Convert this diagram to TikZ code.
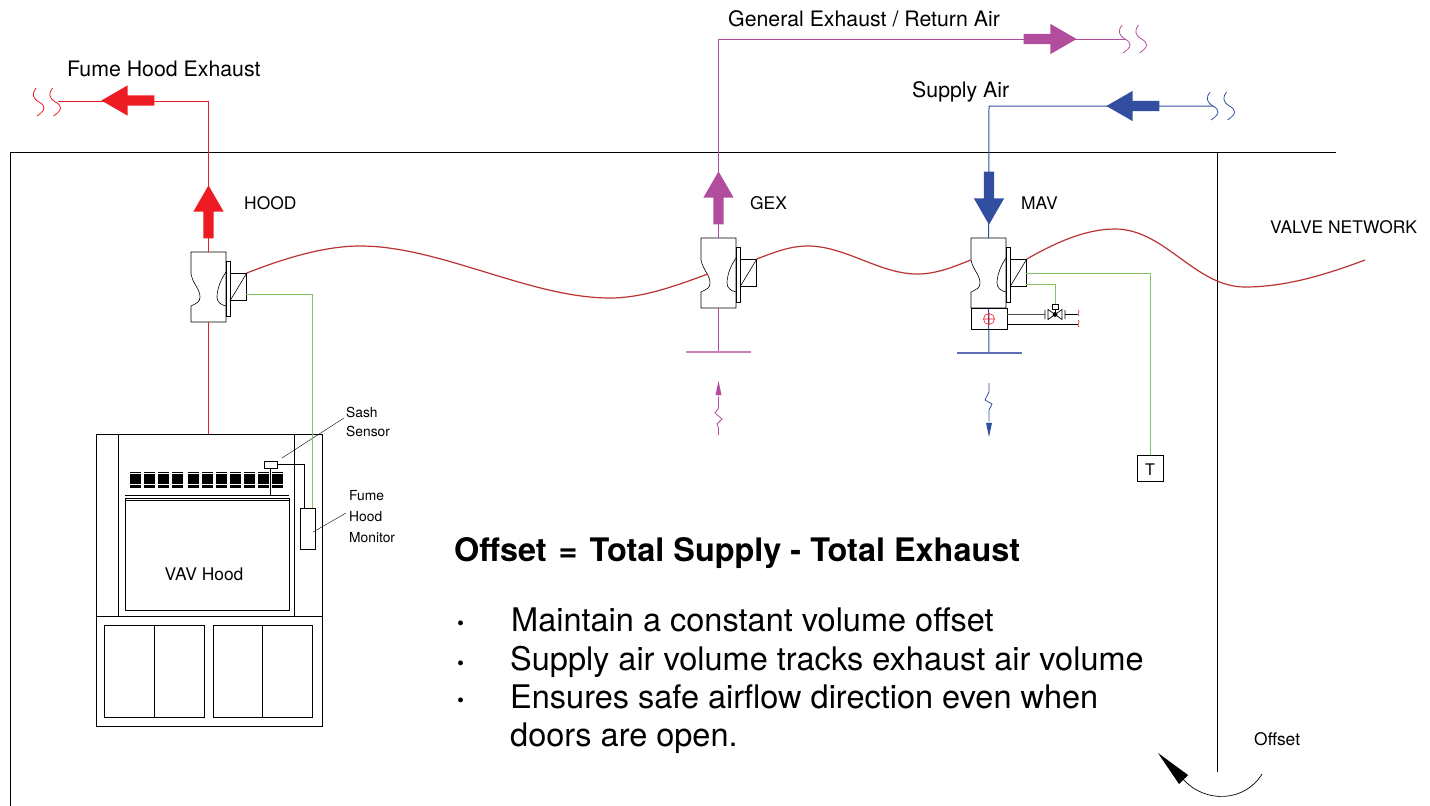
\documentclass[tikz,border=0pt]{standalone}
\usepackage{fontspec}
\setmainfont{TeX Gyre Heros}
\usepackage{tikz}
\usetikzlibrary{arrows,shapes}
\definecolor{hoodred}{RGB}{237,28,36}
\definecolor{gexpurple}{RGB}{178,76,156}
\definecolor{mavblue}{RGB}{50,78,160}
\definecolor{netred}{RGB}{186,50,50}
\definecolor{siggreen}{RGB}{130,195,100}
\tikzstyle{flowarrow} = [single arrow, draw=none, inner sep=0pt, text height=10pt, text depth=0pt, text width=0pt, minimum height=53pt, minimum width=30pt, single arrow head extend=10pt, single arrow tip angle=60, anchor=tip]
\tikzstyle{smallarrow} = [single arrow, draw=none, inner sep=0pt, minimum height=16pt, minimum width=6pt, single arrow head extend=2.5pt, single arrow tip angle=24, anchor=tip]
\tikzstyle{actbox} = [draw, thick, inner sep=0pt, minimum width=16pt, minimum height=27pt]
\tikzstyle{valveline} = [draw, semithick]
\tikzstyle{thinline} = [draw, line width=0.7pt]
\tikzstyle{netline} = [draw=netred, line width=1.2pt]
\tikzstyle{sigline} = [draw=siggreen, line width=1pt]
\tikzstyle{lab} = [inner sep=0pt, anchor=west, font=\fontsize{17.4}{22}\selectfont]
\tikzstyle{midlab} = [inner sep=0pt, anchor=west, font=\fontsize{21.3}{24}\selectfont]
\tikzstyle{smalllab} = [inner sep=0pt, anchor=west, align=left, font=\fontsize{13.8}{19}\selectfont]
\tikzstyle{biglab} = [inner sep=0pt, anchor=base west, align=left, font=\fontsize{32.5}{38}\selectfont]
% one air valve with actuator box
\newcommand{\airvalve}[3]{
  \begin{scope}[shift={(#2,#3)}]
    \draw[valveline] (0,0) -- (35,0) -- (35,70) -- (0,70) -- (0,54) .. controls (6,51) and (9,50) .. (9,45) .. controls (9,37) and (2,32) .. (0,22) -- cycle;
    \draw[valveline] (35,20) .. controls (28,30) and (26,40) .. (26,45) .. controls (26,50) and (30,53) .. (35,54);
    \draw[valveline] (35,9) rectangle (39,64);
    \node[actbox,anchor=north west] (#1act) at (39,21) {};
    \draw[valveline] (#1act.north east) -- (#1act.south west);
    \coordinate (#1top) at (17.5,0);
    \coordinate (#1bot) at (17.5,70);
    \coordinate (#1sig) at (55,42);
    \coordinate (#1neck) at (7,36);
    \coordinate (#1side) at (0,22);
  \end{scope}}
% pair of wavy breaks at the end of a duct
\newcommand{\ductbreak}[3]{
  \foreach \dx in {0,16.5}
    \draw[#1,line width=0.8pt,shift={(#2+\dx,#3)}] (0,-14) .. controls (-4,-9) and (-4,-4) .. (3,0) .. controls (10,4) and (10,8) .. (1,14);}

\begin{document}
\begin{tikzpicture}[x=1pt,y=-1pt]
  \useasboundingbox (0,0) rectangle (1430,806);
  % room
  \draw[thinline] (10,806) -- (10,152) -- (1336,152);
  \draw[thinline] (1217,152) -- (1217,772);

  % valves
  \airvalve{hood}{191}{252}
  \airvalve{gex}{701}{238}
  \airvalve{mav}{971}{238}

  % fume hood
  \node[draw,thick,minimum width=226pt,minimum height=292pt,inner sep=0pt] (vavhood) at (209,580) {};
  \draw[thinline] (118,434) -- (118,616) (294,434) -- (294,616) (96,616) -- (322,616);
  \draw[thick] (125,498) rectangle (289,610);
  \draw[thinline] (125,495) -- (289,495) (125,500) -- (289,500);
  \draw[thinline] (104,625) rectangle (204,717) (154,625) -- (154,717);
  \draw[thinline] (213,625) rectangle (312,717) (262,625) -- (262,717);
  \foreach \lx in {130,144,158,172,188,202,216,230,244,258,272}
    \foreach \ly in {472.7,474.8,476.9,479,481.1,483.2,485.3,487}
      \draw[line width=1.5pt] (\lx,\ly) -- ++(11,0);
  \node[draw,thin,fill=white,minimum width=13pt,minimum height=7pt,inner sep=0pt] (sash) at (270.5,464.5) {};
  \node[draw,thin,fill=white,minimum width=15pt,minimum height=41pt,inner sep=0pt] (monitor) at (308,528.5) {};
  \coordinate (sashbar) at (270.5,495);
  \coordinate (monitortop) at (304,508);
  \draw[thinline] (sash) -- (sashbar);
  \draw[thinline] (sash.east) -| (monitortop);
  \coordinate (sashlead) at (344,418);
  \coordinate (monlead) at (346,513);
  \draw[thin] (sashlead) -- (282,458);
  \draw[thin] (monlead) -- (313,532);

  % ducts
  \coordinate (fumeend) at (58,101);
  \coordinate (fumecorner) at (208.5,101);
  \draw[hoodred,line width=1pt] (hoodtop) -- (fumecorner) -- (fumeend);
  \draw[hoodred,line width=1pt] (hoodbot) -- (hoodbot |- vavhood.north);
  \ductbreak{hoodred}{36}{102}
  \node[flowarrow,fill=hoodred,rotate=90] (hoodup) at (208.5,185) {};
  \node[flowarrow,fill=hoodred,rotate=180] (fumeleft) at (101,100.5) {};

  \coordinate (genend) at (1125,39);
  \coordinate (gencorner) at (718.5,39);
  \coordinate (geninlet) at (718.5,352);
  \coordinate (gexgrilleL) at (686,352);
  \coordinate (gexgrilleR) at (751,352);
  \draw[gexpurple,line width=1pt] (gextop) -- (gencorner) -- (genend);
  \draw[gexpurple,line width=1pt] (gexbot) -- (geninlet);
  \draw[gexpurple!70,line width=1.2pt] (gexgrilleL) -- (gexgrilleR);
  \ductbreak{gexpurple}{1122}{39}
  \node[flowarrow,fill=gexpurple,rotate=90] (gexup) at (718.5,171) {};
  \node[flowarrow,fill=gexpurple,rotate=0] (genright) at (1077,39) {};
  \node[smallarrow,fill=gexpurple,rotate=90] (gexflow) at (718.5,380) {};
  \draw[gexpurple,line width=0.8pt] (gexflow.tail) -- (718.5,408) -- (715,413) -- (722,419) -- (717,424) -- (718.5,428) -- (718.5,435);

  \coordinate (supend) at (1213,106);
  \coordinate (supcorner) at (989,106);
  \coordinate (mavoutlet) at (989,353);
  \coordinate (mavgrilleL) at (957,353);
  \coordinate (mavgrilleR) at (1022,353);
  \draw[mavblue,line width=1pt] (mavtop) -- (supcorner) -- (supend);
  \draw[mavblue,line width=1pt] (mavbot) -- (mavoutlet);
  \draw[mavblue!80,line width=1.2pt] (mavgrilleL) -- (mavgrilleR);
  \ductbreak{mavblue}{1210}{106}
  \node[flowarrow,fill=mavblue,rotate=-90] (mavdown) at (989,225) {};
  \node[flowarrow,fill=mavblue,rotate=180] (supleft) at (1106,106) {};
  \node[smallarrow,fill=mavblue,rotate=-90] (mavflow) at (989,438) {};
  \draw[mavblue,line width=0.8pt] (mavflow.tail) -- (989,410) -- (992,404) -- (985,400) -- (989,392) -- (989,383);

  % reheat box under the supply valve
  \node[draw,thick,minimum width=36pt,minimum height=21pt,inner sep=0pt] (reheat) at (989,318.5) {};
  \draw[hoodred,line width=0.6pt] (989,319) circle (5.5) (983.5,319) -- (994.5,319) (989,313.5) -- (989,324.5);
  % control valve on the reheat pipes
  \node[draw,thin,inner sep=0pt,minimum width=6pt,minimum height=5pt] (ctrlvalve) at (1055,306.5) {};
  \coordinate (ctrlcentre) at (1055,314.5);
  \coordinate (flangeL) at (1045,314.5);
  \coordinate (flangeR) at (1065,314.5);
  \coordinate (pipeend) at (1078,314.5);
  \coordinate (pipeendb) at (1078,324);
  \draw[line width=1.1pt,black!70] (reheat.east |- flangeL) -- (flangeL);
  \draw[thinline] (flangeR) -- (pipeend);
  \draw[thinline] (reheat.east |- pipeendb) -- (pipeendb);
  \draw[line width=0.7pt] (1045,310) -- (1045,319) (1065,310) -- (1065,319) (1048,309.5) -- (1062,319.5) -- (1062,309.5) -- (1048,319.5) -- cycle;
  \fill (ctrlcentre) circle (2.4);
  \draw[thinline] (ctrlvalve) -- (ctrlcentre);
  \draw[hoodred,line width=0.6pt] (1078,310) .. controls (1081,312) and (1076,314) .. (1079,316) (1078,320) .. controls (1081,322) and (1076,325) .. (1079,327);

  % signal wires
  \node[draw,thin,minimum width=26pt,minimum height=26pt,inner sep=0pt] (tstat) at (1150,468) {};
  \node[font=\fontsize{16}{18}\selectfont,inner sep=0pt] (tstatlab) at (1150,470) {T};
  \coordinate (mavsigtop) at (1026,273);
  \coordinate (mavsiglow) at (1026,284);
  \draw[sigline] (hoodsig) -| (312,508);
  \draw[sigline] (mavsigtop) -| (tstat.north);
  \draw[sigline] (mavsiglow) -| (ctrlvalve.north);

  % valve network
  \draw[netline] (hoodact.north east) .. controls (285,258) and (325,246) .. (360,246) .. controls (440,246) and (530,298) .. (610,298) .. controls (645,298) and (680,284) .. (gexneck);
  \draw[netline] (gexact.north east) .. controls (775,252) and (790,246) .. (808,246) .. controls (845,246) and (880,274) .. (917,274) .. controls (938,274) and (955,266) .. (mavside);
  \draw[netline] (mavact.north east) .. controls (1055,243) and (1085,229) .. (1115,229) .. controls (1165,229) and (1195,287) .. (1245,287) .. controls (1285,287) and (1325,275) .. (1365,260);

  % offset arc
  \coordinate (arcstart) at (1262,774);
  \coordinate (arctip) at (1158,753);
  \draw[line width=0.7pt] (arcstart) .. controls (1245,802) and (1205,804) .. (1183,779);
  \fill (arctip) -- (1188,775) -- (1179,784) -- cycle;

  % labels
  \node[midlab] (fumelab) at (67,69) {Fume Hood Exhaust};
  \node[midlab] (genlab) at (728,18.5) {General Exhaust / Return Air};
  \node[midlab] (suplab) at (912,92) {Supply Air};
  \node[lab] (hoodlab) at (244,203) {HOOD};
  \node[lab] (gexlab) at (750,203) {GEX};
  \node[lab] (mavlab) at (1021,203) {MAV};
  \node[lab] (netlab) at (1270,227) {VALVE NETWORK};
  \node[lab] (offsetlab) at (1254,739) {Offset};
  \node[lab,anchor=center] (vavlab) at (204,574) {VAV Hood};
  \node[smalllab] (sashlab) at (346,422) {Sash\\Sensor};
  \node[smalllab,font=\fontsize{13.8}{21}\selectfont] (monlab) at (349,517) {Fume\\Hood\\Monitor};
  \node[biglab,font=\fontsize{32.4}{38}\bfseries\selectfont] (offsettitle) at (454,561) {Offset\hspace{3pt} = \hspace{3pt}Total Supply - Total Exhaust};
  \node[biglab] (b1) at (511,631) {Maintain a constant volume offset};
  \node[biglab] (b2) at (510,670) {Supply air volume tracks exhaust air volume};
  \node[biglab] (b3) at (510,708) {Ensures safe airflow direction even when};
  \node[biglab] (b4) at (510,746) {doors are open.};
  \node[biglab] (d1) at (456,631) {\bfseries ·};
  \node[biglab] (d2) at (456,671) {\bfseries ·};
  \node[biglab] (d3) at (456,708) {\bfseries ·};
\end{tikzpicture}
\end{document}
